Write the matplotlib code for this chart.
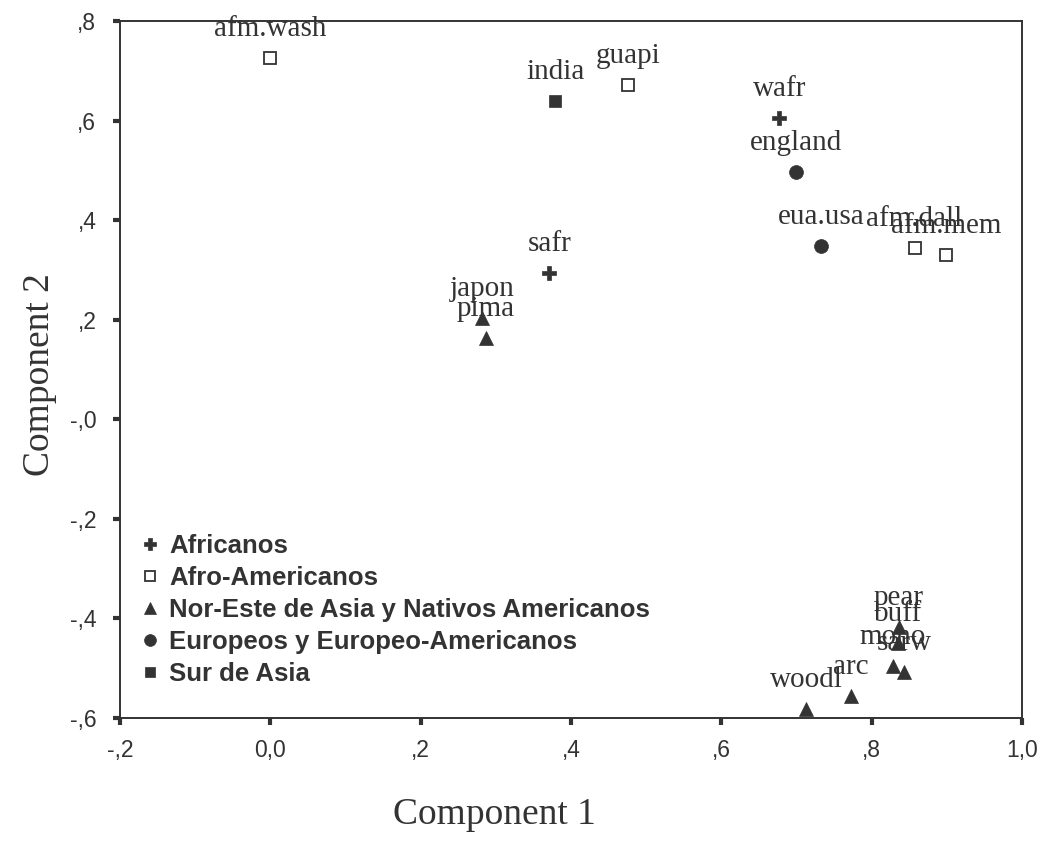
import matplotlib
matplotlib.use("Agg")
import matplotlib.pyplot as plt
from matplotlib.lines import Line2D

# ---- data ----
groups = ["Africanos", "Afro-Americanos", "Nor-Este de Asia y Nativos Americanos",
          "Europeos y Europeo-Americanos", "Sur de Asia"]
labels = ["afm.wash", "india", "guapi", "wafr", "england", "eua.usa", "afm.dall",
          "afm.mem", "safr", "japon", "pima", "pear", "buff", "mono", "sarw", "arc", "woodl"]
comp1 = [0.000, 0.379, 0.476, 0.677, 0.699, 0.733, 0.857,
         0.899, 0.371, 0.282, 0.287, 0.836, 0.835, 0.828, 0.843, 0.772, 0.713]
comp2 = [0.726, 0.639, 0.671, 0.605, 0.497, 0.348, 0.344,
         0.330, 0.294, 0.203, 0.163, -0.417, -0.449, -0.495, -0.508, -0.556, -0.582]
group_of = [1, 4, 1, 0, 3, 3, 1,
            1, 0, 2, 2, 2, 2, 2, 2, 2, 2]

xticks = [-0.2, 0.0, 0.2, 0.4, 0.6, 0.8, 1.0]
xticklabels = ["-,2", "0,0", ",2", ",4", ",6", ",8", "1,0"]
yticks = [0.8, 0.6, 0.4, 0.2, 0.0, -0.2, -0.4, -0.6]
yticklabels = [",8", ",6", ",4", ",2", "-,0", "-,2", "-,4", "-,6"]

# ---- style ----
ink = "#333333"
mstyle = [
    dict(marker="P", markersize=10, markerfacecolor=ink, markeredgecolor=ink, markeredgewidth=0.5),
    dict(marker="s", markersize=9, markerfacecolor="white", markeredgecolor=ink, markeredgewidth=1.3),
    dict(marker="^", markersize=10, markerfacecolor=ink, markeredgecolor=ink, markeredgewidth=0.5),
    dict(marker="o", markersize=10, markerfacecolor=ink, markeredgecolor=ink, markeredgewidth=0.5),
    dict(marker="s", markersize=9, markerfacecolor=ink, markeredgecolor=ink, markeredgewidth=0.5),
]

fig = plt.figure(figsize=(10.38, 8.5), dpi=100)
ax = fig.add_axes([120/1038, 1-718/850, (1022-120)/1038, (718-21)/850])

for gi in range(len(groups)):
    xs = [comp1[i] for i in range(len(labels)) if group_of[i] == gi]
    ys = [comp2[i] for i in range(len(labels)) if group_of[i] == gi]
    ax.plot(xs, ys, linestyle="none", zorder=2, **mstyle[gi])

for i, lab in enumerate(labels):
    ax.annotate(lab, (comp1[i], comp2[i]), xytext=(0, 21), textcoords="offset points",
                ha="center", va="center", fontsize=21, family="Liberation Serif",
                color=ink, zorder=3)

ax.set_xlim(-0.2, 1.0)
ax.set_ylim(-0.6, 0.8)
ax.set_xticks(xticks)
ax.set_xticklabels(xticklabels)
ax.set_yticks(yticks)
ax.set_yticklabels(yticklabels)
for sp in ax.spines.values():
    sp.set_color(ink)
    sp.set_linewidth(1.4)
ax.tick_params(axis="both", direction="out", length=5, width=3, color=ink,
               labelcolor=ink, labelsize=16.5)
ax.tick_params(axis="x", pad=10)
ax.tick_params(axis="y", pad=12)
for t in ax.get_xticklabels() + ax.get_yticklabels():
    t.set_family("Liberation Sans")

handles = []
for gi in range(len(groups)):
    st = dict(mstyle[gi])
    st["markersize"] = st["markersize"] * 0.85
    handles.append(Line2D([], [], linestyle="none", **st))
leg = ax.legend(handles, groups, loc="lower left", bbox_to_anchor=(0.005, 0.02),
                frameon=False, handlelength=0.6, handletextpad=0.45, labelspacing=0.31,
                borderpad=0.2, prop=dict(family="Liberation Sans", weight="bold", size=18.5))
for t in leg.get_texts():
    t.set_color(ink)

fig.text(494/1038, 1-815/850, "Component 1", ha="center", va="center",
         fontsize=27, family="Liberation Serif", color=ink)
fig.text(40/1038, 1-375/850, "Component 2", ha="center", va="center", rotation=90,
         fontsize=27, family="Liberation Serif", color=ink)

fig.savefig("out.png", dpi=100, facecolor="white")
